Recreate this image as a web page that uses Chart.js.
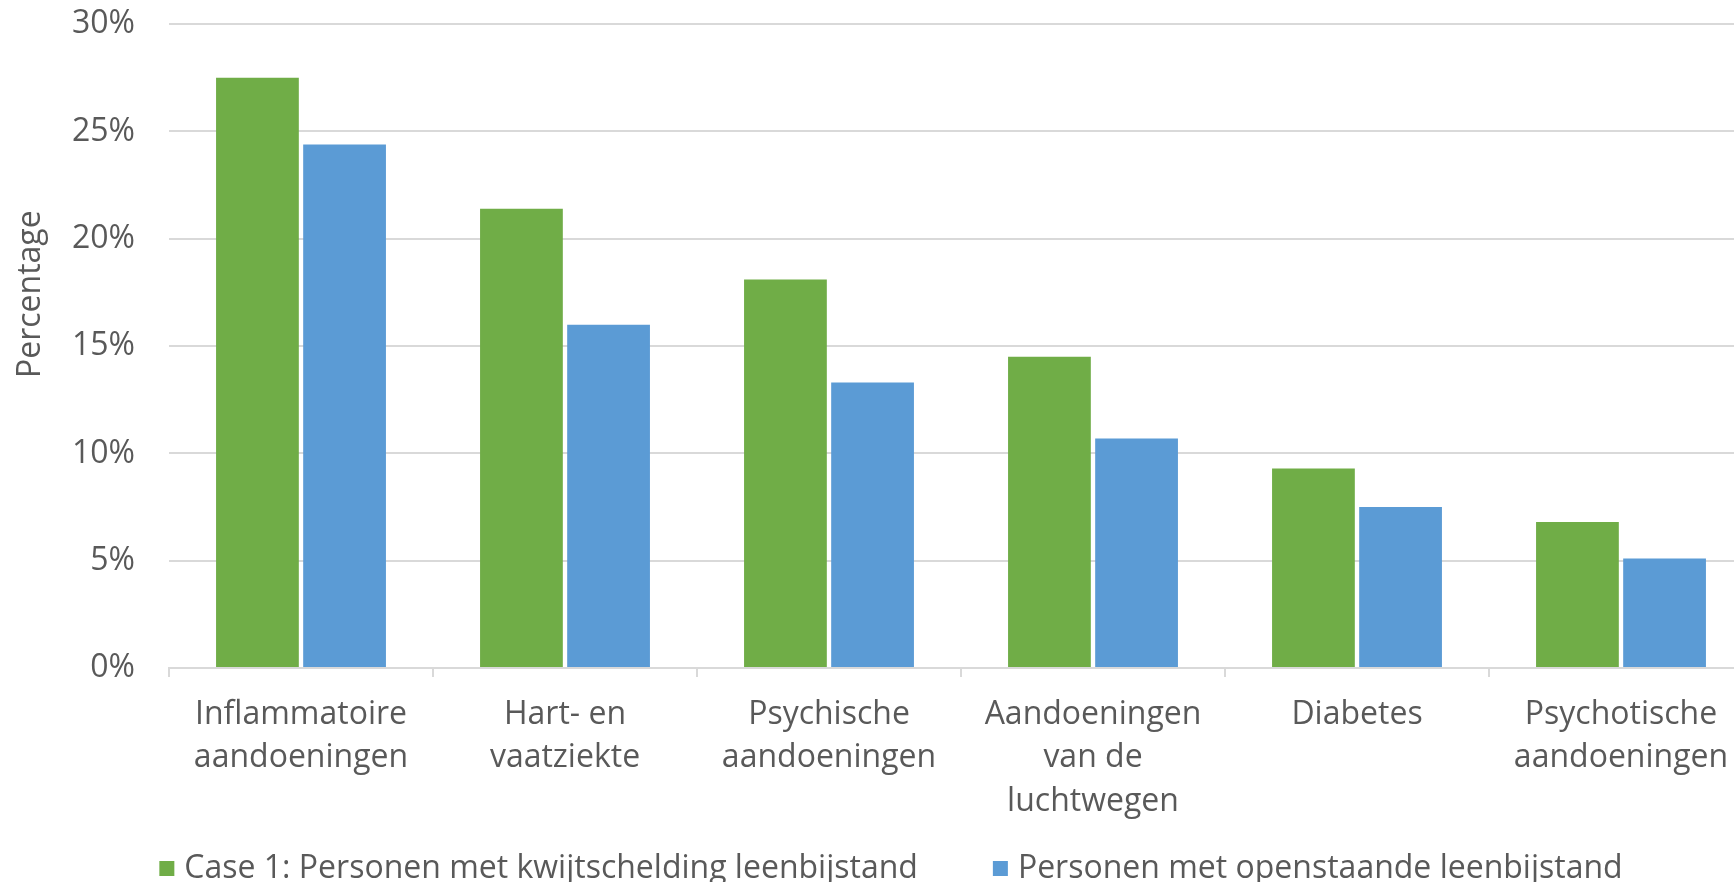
<!DOCTYPE html>
<html>
<head>
<meta charset="utf-8">
<script src="https://cdn.jsdelivr.net/npm/chart.js@4/dist/chart.umd.min.js"></script>
<style>
  html, body { margin: 0; padding: 0; background: #fff; overflow: hidden; }
  #wrap { position: absolute; left: 0; top: -29px; width: 1760px; height: 925px; }
</style>
</head>
<body>
<div id="wrap"><canvas id="chart" width="1760" height="925"></canvas></div>
<script>
const categories = [
  ["Inflammatoire", "aandoeningen"],
  ["Hart- en", "vaatziekte"],
  ["Psychische", "aandoeningen"],
  ["Aandoeningen", "van de", "luchtwegen"],
  ["Diabetes"],
  ["Psychotische", "aandoeningen"]
];
const seriesNames = [
  "Case 1: Personen met kwijtschelding leenbijstand",
  "Personen met openstaande leenbijstand"
];
const kwijtschelding = [27.5, 21.4, 18.1, 14.5, 9.3, 6.8];
const openstaand = [24.4, 16.0, 13.3, 10.7, 7.5, 5.1];
const yTicks = [0, 5, 10, 15, 20, 25, 30];

const textColor = "#595959";
const gridColor = "#d9d9d9";
const fontFamily = "'Open Sans', sans-serif";

// axis title drawn by hand, sits a bit above the middle like in the original
const yTitle = {
  id: "yTitle",
  afterDraw(chart) {
    const ctx = chart.ctx;
    ctx.save();
    ctx.translate(31, chart.chartArea.top + 270);
    ctx.rotate(-Math.PI / 2);
    ctx.fillStyle = textColor;
    ctx.font = "32px " + fontFamily;
    ctx.textAlign = "center";
    ctx.textBaseline = "middle";
    ctx.fillText("Percentage", 0, 0);
    ctx.restore();
  }
};

// legend row under the axis labels, wide gap between the two items
const bottomLegend = {
  id: "bottomLegend",
  afterDraw(chart) {
    const ctx = chart.ctx;
    ctx.save();
    ctx.font = "32px " + fontFamily;
    ctx.textBaseline = "middle";
    const y = chart.chartArea.bottom + 201;
    const items = chart.data.datasets.map(ds => ({
      text: ds.label, color: ds.backgroundColor, w: ctx.measureText(ds.label).width
    }));
    const gap = 75;
    const total = items.reduce((s, it) => s + 25 + it.w, 0) + gap * (items.length - 1);
    let x = 891 - total / 2;
    items.forEach(it => {
      ctx.fillStyle = it.color;
      ctx.fillRect(x, y - 8, 15, 15);
      ctx.fillStyle = textColor;
      ctx.fillText(it.text, x + 25, y);
      x += 25 + it.w + gap;
    });
    ctx.restore();
  }
};

new Chart(document.getElementById("chart").getContext("2d"), {
  type: "bar",
  data: {
    labels: categories,
    datasets: [
      { label: seriesNames[0], data: kwijtschelding, backgroundColor: "#70ad47" },
      { label: seriesNames[1], data: openstaand, backgroundColor: "#5b9bd5" }
    ]
  },
  options: {
    responsive: false,
    animation: false,
    layout: { padding: { top: 0, right: 7, left: 41, bottom: 70 } },
    datasets: {
      bar: { categoryPercentage: 0.66, barPercentage: 0.95 }
    },
    plugins: {
      tooltip: { enabled: false },
      legend: { display: false }
    },
    scales: {
      x: {
        afterFit(scale) { scale.height = 158; },
        grid: {
          offset: true,
          drawOnChartArea: false,
          drawTicks: true,
          tickLength: 9,
          color: gridColor,
          lineWidth: 2
        },
        border: { color: gridColor, width: 2 },
        ticks: {
          color: textColor,
          font: { family: fontFamily, size: 32, lineHeight: 1.36 },
          maxRotation: 0,
          autoSkip: false,
          padding: 16
        }
      },
      y: {
        min: 0,
        max: 30,
        afterFit(scale) { scale.width = 128; },
        afterBuildTicks(scale) { scale.ticks = yTicks.map(v => ({ value: v })); },
        grid: { color: gridColor, lineWidth: 2, drawTicks: false },
        border: { display: false },
        ticks: {
          color: textColor,
          font: { family: fontFamily, size: 32 },
          padding: 34,
          callback: v => v + "%"
        }
      }
    }
  },
  plugins: [yTitle, bottomLegend]
});
</script>
</body>
</html>
